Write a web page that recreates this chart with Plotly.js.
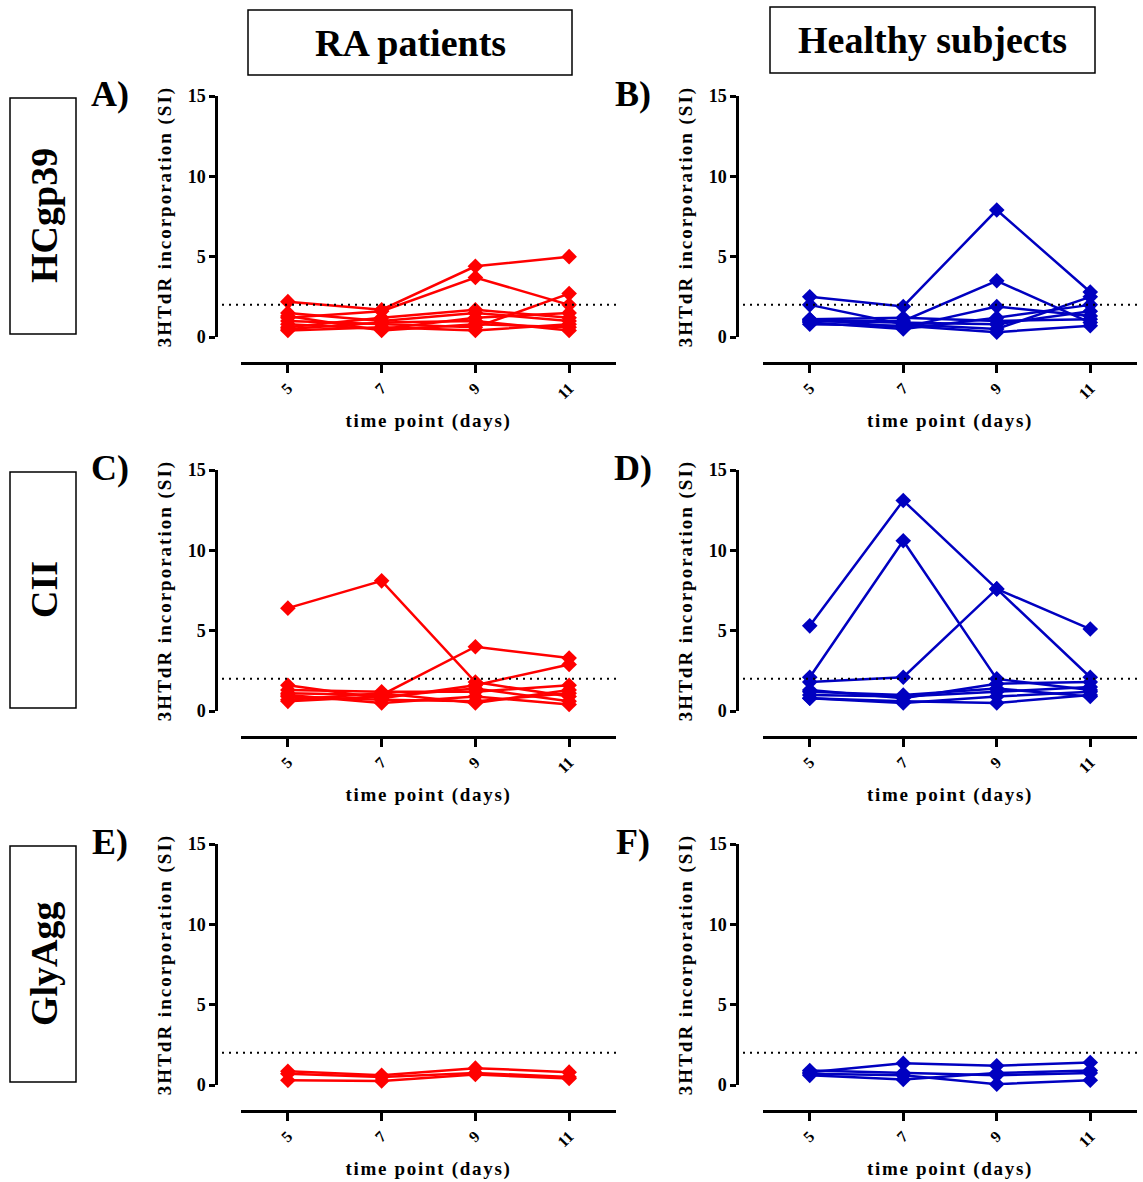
<!DOCTYPE html>
<html>
<head>
<meta charset="utf-8">
<script src="https://cdn.plot.ly/plotly-3.0.1.min.js"></script>
<style>
  html, body { margin: 0; padding: 0; background: #fff; }
  #chart { width: 1143px; height: 1182px; }
  .infolayer text[class^="y"][class$="title"] { letter-spacing: 2px; }
  .infolayer text[class^="x"][class$="title"] { letter-spacing: 1.7px; }
</style>
</head>
<body>
<div id="chart"></div>
<script>
// ---------------- DATA ----------------
const days = [5, 7, 9, 11];
const yTicks = [0, 5, 10, 15];
const threshold = 2;

const columnTitles = ['RA patients', 'Healthy subjects'];
const rowTitles = ['HCgp39', 'CII', 'GlyAgg'];
const panelLetters = ['A)', 'B)', 'C)', 'D)', 'E)', 'F)'];

// A) RA patients, HCgp39
const raHCgp39 = [
  [2.2, 1.7, 4.4, 5.0],
  [1.2, 1.6, 3.7, 2.0],
  [1.0, 0.8, 0.6, 2.7],
  [1.5, 1.0, 1.5, 1.0],
  [0.8, 0.5, 1.2, 1.5],
  [0.5, 0.9, 1.0, 0.4],
  [1.3, 0.4, 0.8, 0.6],
  [0.6, 1.2, 1.7, 1.2],
  [0.4, 0.6, 0.4, 0.8]
];
// B) Healthy subjects, HCgp39
const hsHCgp39 = [
  [2.5, 1.9, 7.9, 2.8],
  [2.0, 0.8, 0.5, 2.5],
  [1.0, 1.0, 3.5, 0.9],
  [1.1, 0.6, 1.9, 1.3],
  [0.9, 0.5, 1.2, 2.0],
  [1.0, 0.9, 0.8, 1.6],
  [0.8, 0.7, 0.3, 0.7],
  [1.1, 1.2, 1.0, 1.1]
];
// C) RA patients, CII
const raCII = [
  [6.4, 8.1, 1.8, 0.9],
  [1.1, 1.0, 4.0, 3.3],
  [1.6, 0.8, 1.6, 2.9],
  [1.3, 1.2, 1.2, 1.6],
  [0.9, 0.7, 0.6, 1.1],
  [0.6, 0.9, 1.4, 0.6],
  [1.0, 0.5, 0.9, 0.4],
  [0.7, 1.1, 0.5, 1.3]
];
// D) Healthy subjects, CII
const hsCII = [
  [5.3, 13.1, 7.6, 2.1],
  [2.1, 10.6, 2.0, 1.3],
  [1.8, 2.1, 7.6, 5.1],
  [1.3, 0.8, 1.7, 1.8],
  [0.8, 0.6, 0.5, 1.0],
  [1.0, 0.9, 1.2, 1.5],
  [0.8, 0.5, 0.9, 1.2],
  [1.2, 1.0, 1.4, 0.9]
];
// E) RA patients, GlyAgg
const raGlyAgg = [
  [0.85, 0.6, 1.05, 0.8],
  [0.7, 0.5, 0.75, 0.5],
  [0.3, 0.25, 0.65, 0.4]
];
// F) Healthy subjects, GlyAgg
const hsGlyAgg = [
  [0.8, 1.35, 1.2, 1.4],
  [0.9, 0.75, 0.6, 0.75],
  [0.7, 0.6, 0.05, 0.3],
  [0.6, 0.35, 0.75, 0.9]
];

// ---------------- LAYOUT HELPERS ----------------
const W = 1143, H = 1182;
const fx = p => p / W;
const fy = p => 1 - p / H;
const FONT = 'Liberation Serif, Times New Roman, serif';
const RED = '#FF0000', BLUE = '#0000C0';

const panels = [
  { data: raHCgp39, row: 0, col: 0, color: RED },
  { data: hsHCgp39, row: 0, col: 1, color: BLUE },
  { data: raCII,    row: 1, col: 0, color: RED },
  { data: hsCII,    row: 1, col: 1, color: BLUE },
  { data: raGlyAgg, row: 2, col: 0, color: RED },
  { data: hsGlyAgg, row: 2, col: 1, color: BLUE }
];

const cols = [
  { yAxisX: 216, x0: 241, x1: 616, dot0: 222, letterX: 110 },
  { yAxisX: 737, x0: 763, x1: 1137, dot0: 743, letterX: 633 }
];
const rowTop = r => 96 + 374 * r;
const rowBottom = r => 337 + 374 * r;
const rowXLine = r => 363 + 374 * r;

const traces = [];
const layout = {
  width: W, height: H,
  margin: { l: 0, r: 0, t: 0, b: 0 },
  paper_bgcolor: '#fff', plot_bgcolor: 'rgba(0,0,0,0)',
  showlegend: false,
  font: { family: FONT, color: '#000' },
  shapes: [], annotations: []
};

panels.forEach((p, i) => {
  const k = i + 1;
  const sfx = (k === 1 ? '' : String(k));
  const c = cols[p.col];

  p.data.forEach(series => {
    traces.push({
      type: 'scatter', mode: 'lines+markers',
      x: days, y: series,
      xaxis: 'x' + sfx, yaxis: 'y' + sfx,
      line: { color: p.color, width: 2.5 },
      marker: { symbol: 'diamond', size: 12, color: p.color },
      cliponaxis: false, hoverinfo: 'x+y'
    });
  });

  layout['xaxis' + sfx] = {
    domain: [fx(c.x0), fx(c.x1)],
    anchor: 'free', position: fy(rowXLine(p.row)),
    range: [4, 12], tickvals: days, ticktext: days.map(String),
    tickangle: -45,
    showline: true, linecolor: '#000', linewidth: 2.5,
    ticks: 'outside', ticklen: 8, tickwidth: 2.5, tickcolor: '#000',
    showgrid: false, zeroline: false, fixedrange: true,
    tickfont: { family: FONT, size: 16, weight: 'bold', color: '#000' },
    title: { text: 'time point (days)', standoff: 12,
             font: { family: FONT, size: 19, weight: 'bold', color: '#000' } }
  };
  layout['yaxis' + sfx] = {
    domain: [fy(rowBottom(p.row)), fy(rowTop(p.row))],
    anchor: 'free', position: fx(c.yAxisX),
    range: [0, 15], tickvals: yTicks, ticktext: yTicks.map(String),
    showline: true, linecolor: '#000', linewidth: 2.5,
    ticks: 'outside', ticklen: 6, tickwidth: 2.5, tickcolor: '#000',
    showgrid: false, zeroline: false, fixedrange: true,
    tickfont: { family: FONT, size: 18, weight: 'bold', color: '#000' },
    title: { text: '3HTdR incorporation (SI)', standoff: 10,
             font: { family: FONT, size: 19, weight: 'bold', color: '#000' } }
  };

  // threshold dotted line
  layout.shapes.push({
    type: 'line', xref: 'paper', yref: 'y' + sfx,
    x0: fx(c.dot0), x1: fx(c.x1), y0: threshold, y1: threshold,
    line: { color: '#000', width: 2, dash: '2px,5px' }
  });

  // panel letter
  layout.annotations.push({
    xref: 'paper', yref: 'paper', x: fx(c.letterX), y: fy(94 + 374 * p.row),
    text: panelLetters[i], showarrow: false, xanchor: 'center', yanchor: 'middle',
    font: { family: FONT, size: 36, weight: 'bold', color: '#000' }
  });
});

// column header boxes
const headerBoxes = [
  { x0: 248, x1: 572, y0: 10, y1: 75 },
  { x0: 770, x1: 1095, y0: 7, y1: 73 }
];
headerBoxes.forEach((b, j) => {
  layout.shapes.push({ type: 'rect', xref: 'paper', yref: 'paper',
    x0: fx(b.x0), x1: fx(b.x1), y0: fy(b.y1), y1: fy(b.y0),
    line: { color: '#000', width: 1.5 }, fillcolor: 'rgba(0,0,0,0)' });
  layout.annotations.push({ xref: 'paper', yref: 'paper',
    x: fx((b.x0 + b.x1) / 2), y: fy((b.y0 + b.y1) / 2),
    text: columnTitles[j], showarrow: false, xanchor: 'center', yanchor: 'middle',
    font: { family: FONT, size: 38, weight: 'bold', color: '#000' } });
});

// row label boxes
rowTitles.forEach((t, r) => {
  const y0 = 98 + 374 * r, y1 = 334 + 374 * r;
  layout.shapes.push({ type: 'rect', xref: 'paper', yref: 'paper',
    x0: fx(10), x1: fx(76), y0: fy(y1), y1: fy(y0),
    line: { color: '#000', width: 1.5 }, fillcolor: 'rgba(0,0,0,0)' });
  layout.annotations.push({ xref: 'paper', yref: 'paper',
    x: fx(44), y: fy((y0 + y1) / 2), textangle: -90,
    text: t, showarrow: false, xanchor: 'center', yanchor: 'middle',
    font: { family: FONT, size: 38, weight: 'bold', color: '#000' } });
});

Plotly.newPlot('chart', traces, layout, { displayModeBar: false });
</script>
</body>
</html>
